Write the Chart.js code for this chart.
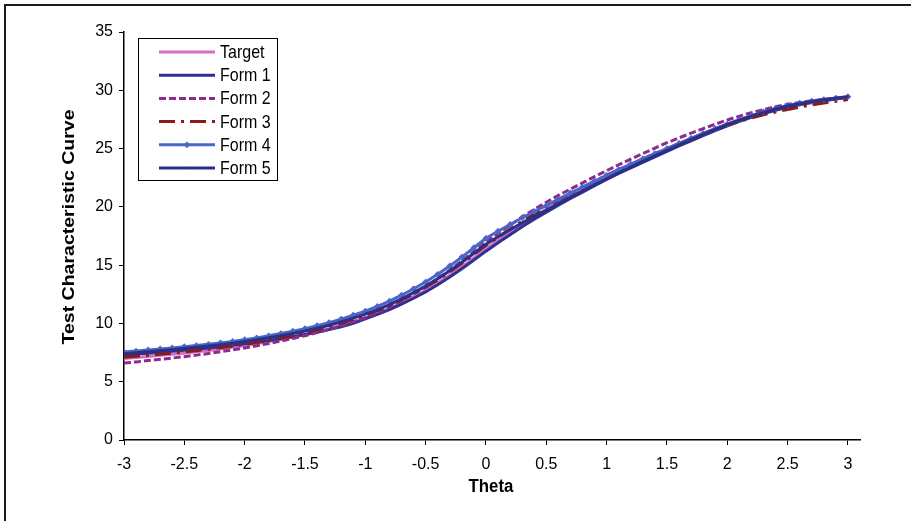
<!DOCTYPE html>
<html>
<head>
<meta charset="utf-8">
<script src="https://cdn.jsdelivr.net/npm/chart.js@4.4.0/dist/chart.umd.min.js"></script>
<style>
  html, body { margin: 0; padding: 0; background: #fff; }
  #wrap { position: relative; width: 911px; height: 521px; }
</style>
</head>
<body>
<div id="wrap"><canvas id="chart" width="911" height="521"></canvas></div>
<script>
// theta grid, step 0.1
const theta = [-3.0,-2.9,-2.8,-2.7,-2.6,-2.5,-2.4,-2.3,-2.2,-2.1,
  -2.0,-1.9,-1.8,-1.7,-1.6,-1.5,-1.4,-1.3,-1.2,-1.1,
  -1.0,-0.9,-0.8,-0.7,-0.6,-0.5,-0.4,-0.3,-0.2,-0.1,
  0.0,0.1,0.2,0.3,0.4,0.5,0.6,0.7,0.8,0.9,
  1.0,1.1,1.2,1.3,1.4,1.5,1.6,1.7,1.8,1.9,
  2.0,2.1,2.2,2.3,2.4,2.5,2.6,2.7,2.8,2.9,3.0];

const target = [7.00,7.08,7.17,7.26,7.35,7.45,7.56,7.68,7.81,7.95,
  8.10,8.26,8.44,8.63,8.83,9.05,9.29,9.55,9.84,10.16,
  10.50,10.88,11.30,11.78,12.30,12.85,13.47,14.15,14.87,15.63,
  16.40,17.13,17.83,18.53,19.18,19.80,20.40,20.97,21.52,22.07,
  22.60,23.11,23.60,24.07,24.54,25.00,25.45,25.88,26.30,26.71,
  27.10,27.46,27.79,28.09,28.36,28.60,28.80,28.98,29.13,29.27,29.40];

const form1 = [7.30,7.37,7.45,7.53,7.61,7.70,7.79,7.89,8.00,8.12,
  8.25,8.38,8.53,8.69,8.86,9.05,9.25,9.47,9.72,10.00,
  10.40,10.77,11.18,11.65,12.16,12.70,13.31,13.98,14.69,15.44,
  16.20,16.92,17.61,18.30,18.94,19.55,20.15,20.72,21.27,21.82,
  22.35,22.86,23.35,23.82,24.29,24.75,25.22,25.67,26.11,26.54,
  26.95,27.33,27.68,28.00,28.29,28.55,28.76,28.95,29.11,29.26,29.40];

const form2 = [6.60,6.70,6.81,6.92,7.03,7.15,7.28,7.42,7.57,7.73,
  7.90,8.08,8.28,8.49,8.71,8.95,9.21,9.49,9.80,10.14,
  10.50,10.94,11.42,11.96,12.54,13.15,13.83,14.57,15.35,16.17,
  17.00,17.73,18.43,19.13,19.78,20.40,20.98,21.53,22.06,22.59,
  23.10,23.61,24.10,24.57,25.04,25.50,25.92,26.32,26.71,27.09,
  27.45,27.78,28.08,28.35,28.59,28.80,28.96,29.10,29.21,29.31,29.40];

const form3 = [7.10,7.18,7.27,7.36,7.45,7.55,7.66,7.78,7.91,8.05,
  8.20,8.37,8.56,8.76,8.97,9.20,9.45,9.72,10.02,10.35,
  10.70,11.09,11.52,12.01,12.54,13.10,13.73,14.42,15.15,15.92,
  16.70,17.41,18.09,18.77,19.40,20.00,20.58,21.13,21.66,22.19,
  22.70,23.19,23.66,24.11,24.56,25.00,25.43,25.84,26.24,26.63,
  27.00,27.33,27.63,27.90,28.14,28.35,28.56,28.75,28.91,29.06,29.20];

const form4 = [7.55,7.63,7.72,7.81,7.90,8.00,8.10,8.21,8.33,8.46,
  8.60,8.76,8.94,9.13,9.33,9.55,9.80,10.07,10.37,10.70,
  11.05,11.46,11.91,12.42,12.97,13.55,14.21,14.93,15.69,16.49,
  17.30,17.91,18.49,19.07,19.60,20.10,20.66,21.19,21.70,22.21,
  22.70,23.19,23.66,24.11,24.56,25.00,25.45,25.88,26.30,26.71,
  27.10,27.48,27.83,28.15,28.44,28.70,28.89,29.06,29.20,29.33,29.45];

const form5 = [7.40,7.48,7.57,7.66,7.75,7.85,7.95,8.06,8.18,8.31,
  8.45,8.60,8.77,8.95,9.14,9.35,9.59,9.85,10.14,10.46,
  10.80,11.19,11.62,12.11,12.64,13.20,13.83,14.52,15.25,16.02,
  16.80,17.43,18.03,18.63,19.18,19.70,20.28,20.83,21.36,21.89,
  22.40,22.92,23.42,23.90,24.38,24.85,25.32,25.77,26.21,26.64,
  27.05,27.43,27.78,28.10,28.39,28.65,28.85,29.03,29.18,29.32,29.45];

const seriesNames = ['Target', 'Form 1', 'Form 2', 'Form 3', 'Form 4', 'Form 5'];
const seriesValues = [target, form1, form2, form3, form4, form5];
const colors = ['#d36fc6', '#2e3192', '#8e2b8e', '#8b1a1a', '#4a66c8', '#2c2f86'];
const dashes = [[], [], [7, 3], [16, 6, 3, 6], [], []];
const markers = [0, 0, 0, 0, 3.4, 1.2];

const FONT = '"Liberation Sans", Arial, sans-serif';

function pts(vals) {
  return theta.map((t, i) => ({ x: t, y: vals[i] }));
}

const datasets = seriesNames.map((name, i) => ({
  label: name,
  data: pts(seriesValues[i]),
  borderColor: colors[i],
  backgroundColor: colors[i],
  borderWidth: 3,
  borderDash: dashes[i],
  pointRadius: markers[i],
  pointStyle: 'rectRot',
  pointBorderWidth: 0,
  tension: 0,
  order: seriesNames.length - 1 - i
}));

// frame, legend box and axis titles
const decor = {
  id: 'decor',
  beforeDraw(chart) {
    const ctx = chart.ctx;
    ctx.save();
    ctx.fillStyle = '#fff';
    ctx.fillRect(0, 0, chart.width, chart.height);
    ctx.fillStyle = '#1a1a1a';
    ctx.fillRect(4, 4, chart.width - 4, 2);
    ctx.fillRect(4, 4, 2, chart.height - 4);
    ctx.restore();
  },
  afterDraw(chart) {
    const ctx = chart.ctx;
    ctx.save();
    // legend
    ctx.strokeStyle = '#000';
    ctx.lineWidth = 1;
    ctx.strokeRect(138.5, 38.5, 139, 142);
    chart.data.datasets.forEach((ds, i) => {
      const y = 52 + i * 23.2;
      ctx.beginPath();
      ctx.setLineDash(ds.borderDash);
      ctx.strokeStyle = ds.borderColor;
      ctx.lineWidth = ds.borderWidth;
      ctx.moveTo(159, y);
      ctx.lineTo(215, y);
      ctx.stroke();
      ctx.setLineDash([]);
      if (ds.pointRadius > 0) {
        const r = ds.pointRadius;
        ctx.fillStyle = ds.borderColor;
        ctx.beginPath();
        ctx.moveTo(187, y - r); ctx.lineTo(187 + r, y);
        ctx.lineTo(187, y + r); ctx.lineTo(187 - r, y);
        ctx.closePath();
        ctx.fill();
      }
      ctx.fillStyle = '#000';
      ctx.font = '16px ' + FONT;
      ctx.textBaseline = 'middle';
      ctx.textAlign = 'left';
      ctx.save();
      ctx.translate(220, y + 1);
      ctx.scale(1, 1.12);
      ctx.fillText(ds.label, 0, 0);
      ctx.restore();
    });
    // axis titles
    ctx.font = 'bold 16px ' + FONT;
    ctx.textAlign = 'center';
    ctx.textBaseline = 'middle';
    ctx.save();
    ctx.translate(491, 487);
    ctx.scale(1.05, 1.1);
    ctx.fillText('Theta', 0, 0);
    ctx.restore();
    ctx.translate(70, 227);
    ctx.rotate(-Math.PI / 2);
    ctx.scale(1.22, 1);
    ctx.fillText('Test Characteristic Curve', 0, 0);
    ctx.restore();
  }
};

new Chart(document.getElementById('chart'), {
  type: 'line',
  data: { datasets: datasets },
  plugins: [decor],
  options: {
    responsive: false,
    animation: false,
    devicePixelRatio: 1,
    layout: { padding: { top: 32, right: 51, left: 0, bottom: 0 } },
    plugins: { legend: { display: false }, tooltip: { enabled: false } },
    scales: {
      x: {
        type: 'linear',
        min: -3,
        max: 3.1,
        afterFit(scale) { scale.height = 81; },
        border: { color: '#000', width: 1.5 },
        grid: { drawOnChartArea: false, drawTicks: true, tickLength: 5, color: '#000' },
        ticks: {
          stepSize: 0.5,
          includeBounds: false,
          color: '#000',
          padding: 10,
          maxRotation: 0,
          font: { family: FONT, size: 16 },
          callback: v => String(Math.round(v * 10) / 10)
        }
      },
      y: {
        min: 0,
        max: 35,
        afterFit(scale) { scale.width = 124; },
        border: { color: '#000', width: 1.5 },
        grid: { drawOnChartArea: false, drawTicks: true, tickLength: 5, color: '#000' },
        ticks: {
          stepSize: 5,
          color: '#000',
          padding: 6,
          font: { family: FONT, size: 16 }
        }
      }
    }
  }
});
</script>
</body>
</html>
